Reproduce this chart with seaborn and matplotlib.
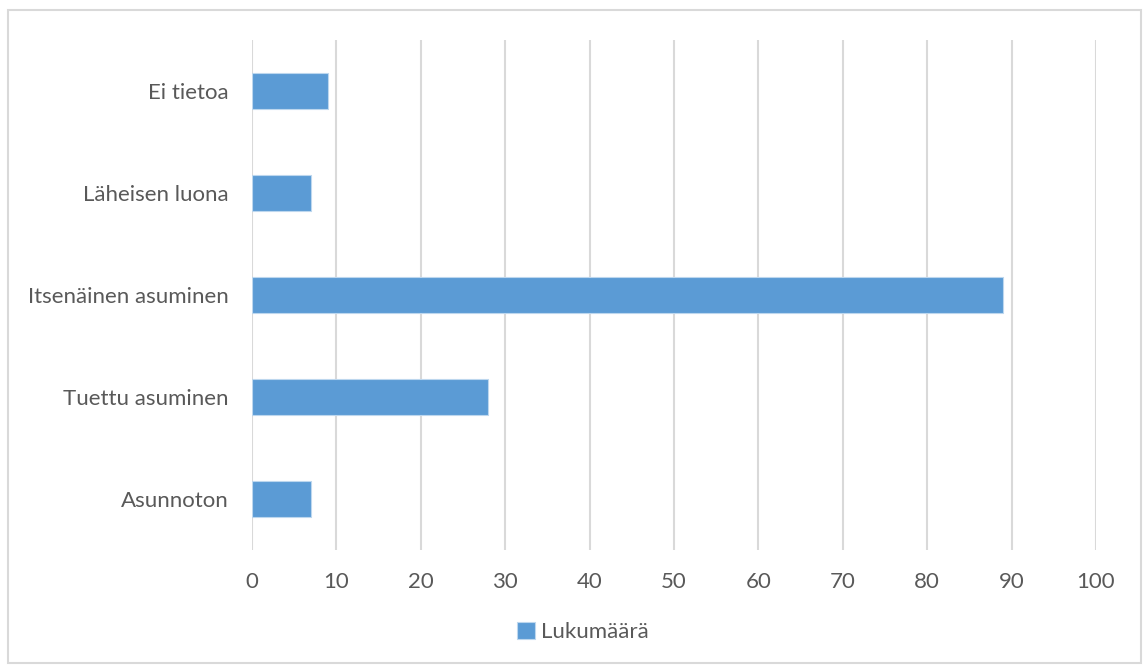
import matplotlib
matplotlib.use('Agg')
import matplotlib.pyplot as plt
import seaborn as sns
import pandas as pd
from matplotlib.patches import Rectangle

# data (Excel order: first category at the bottom)
categories = ['Asunnoton', 'Tuettu asuminen', 'Itsenäinen asuminen', 'Läheisen luona', 'Ei tietoa']
values = [7, 28, 89, 7, 9]
series_name = 'Lukumäärä'
x_ticks = [0, 10, 20, 30, 40, 50, 60, 70, 80, 90, 100]

sns.set_style('white')
plt.rcParams['font.family'] = ['Lato', 'DejaVu Sans']

df = pd.DataFrame({'kategoria': categories, 'arvo': values})
order = categories[::-1]

fig = plt.figure(figsize=(11.43, 6.65), dpi=100)
ax = fig.add_axes([252 / 1143, 1 - 550 / 665, (1096 - 252) / 1143, 510 / 665])

sns.barplot(data=df, x='arvo', y='kategoria', order=order, color='#5B9BD5',
            width=0.35, edgecolor='#BDD7EE', linewidth=0.8, saturation=1,
            label=series_name, ax=ax, zorder=3)

ax.set_xlim(0, 100)
ax.set_ylim(4.5, -0.5)
ax.set_xticks(x_ticks)
ax.grid(axis='x', color='#D9D9D9', linewidth=1.5, zorder=0)
ax.grid(axis='y', visible=False)
for s in ax.spines.values():
    s.set_visible(False)
ax.tick_params(axis='both', length=0, labelsize=16, labelcolor='#595959')
ax.tick_params(axis='x', pad=16)
ax.tick_params(axis='y', pad=17)
ax.set_xlabel('')
ax.set_ylabel('')

leg = ax.legend(loc='center', bbox_to_anchor=(583 / 1143, 1 - 632 / 665),
                bbox_transform=fig.transFigure, frameon=False, fontsize=16,
                handlelength=0.8, handleheight=0.8, handletextpad=0.3)
for t in leg.get_texts():
    t.set_color('#595959')

# chart border
fig.patches.append(Rectangle((8 / 1143, 2 / 665), 1133 / 1143, 653 / 665,
                             transform=fig.transFigure, fill=False,
                             edgecolor='#D9D9D9', linewidth=1.5))

fig.savefig('out.png', dpi=100)
